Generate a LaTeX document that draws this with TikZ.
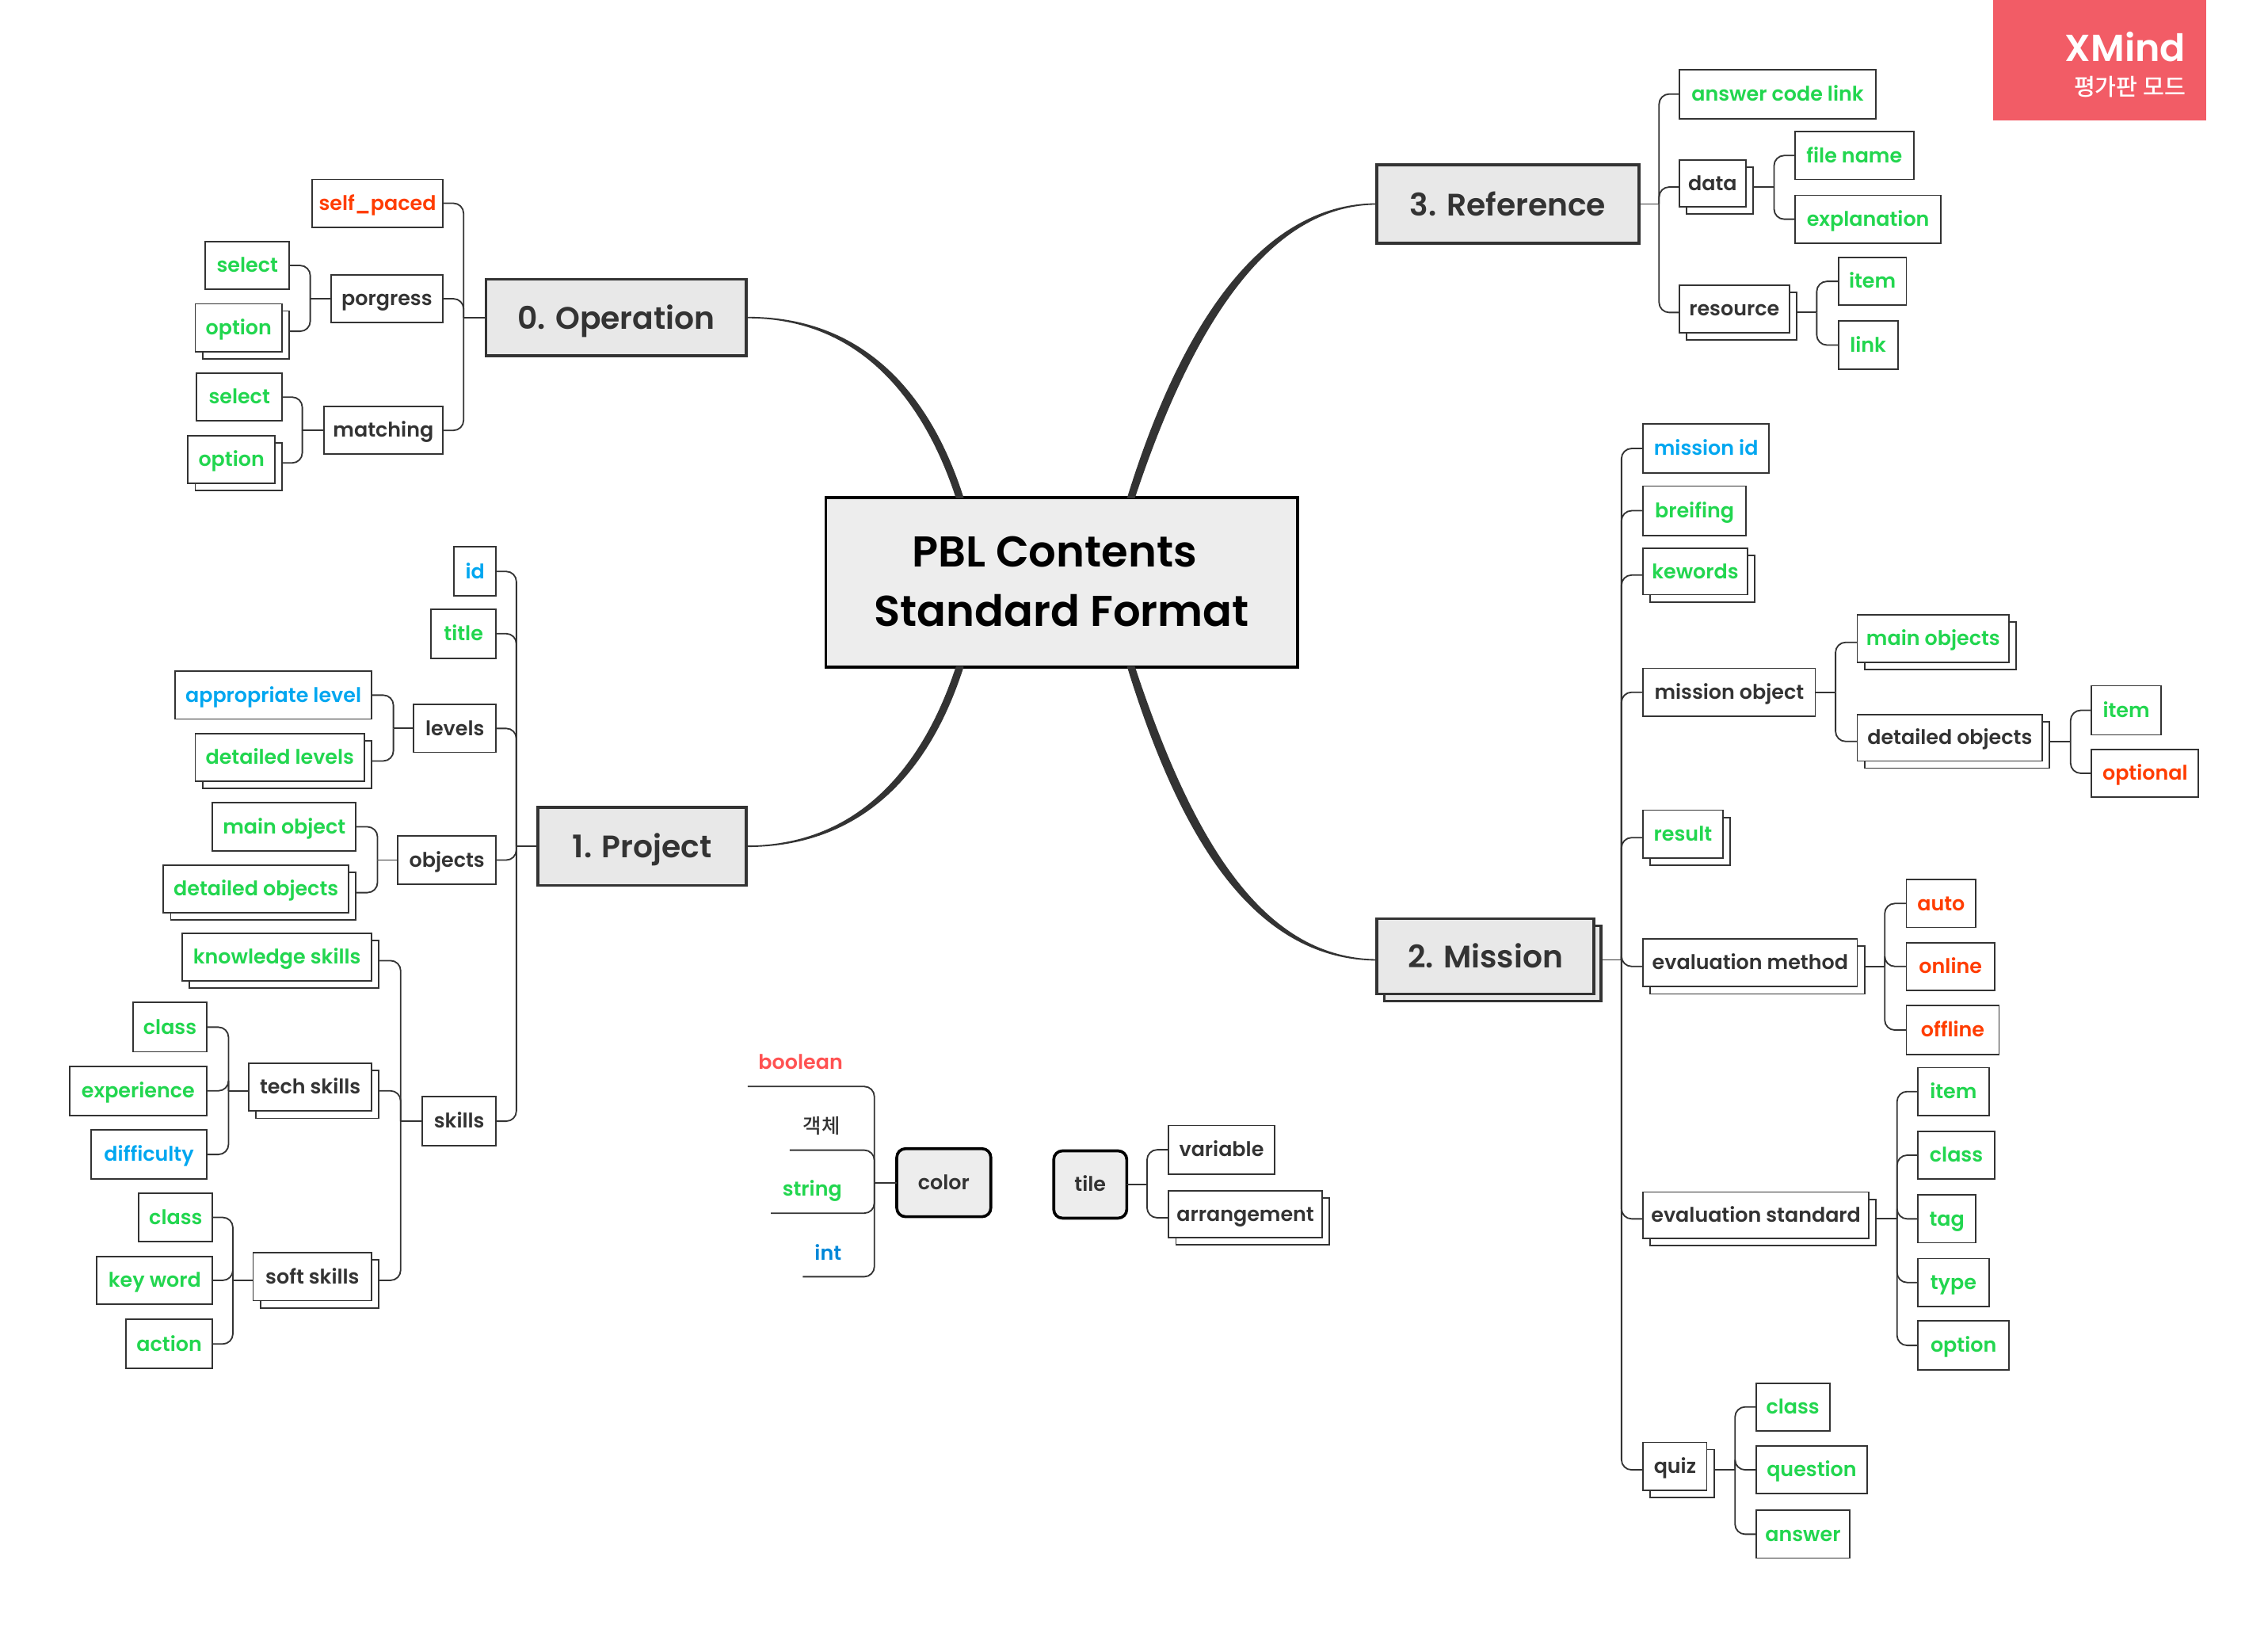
\documentclass[tikz,border=0pt]{standalone}
\usepackage{fontspec}
\setmainfont{Poppins SemiBold}
\newfontfamily\krfont{Noto Sans CJK KR Medium}
\usetikzlibrary{shadows}
\definecolor{cGreen}{HTML}{22D64F}
\definecolor{cRed}{HTML}{FF3D00}
\definecolor{cBlue}{HTML}{00A7F0}
\definecolor{cDark}{HTML}{333333}
\definecolor{cFree}{HTML}{FF5252}
\definecolor{cInt}{HTML}{0088D8}
\definecolor{cLogo}{HTML}{F25C66}
\tikzset{
  x=1pt,y=-1pt,
  base/.style={rectangle,inner sep=0pt,outer sep=0pt,text height=12pt,text depth=2.4pt,font=\fontsize{13.9}{16}\selectfont},
  sub/.style={base,draw=cDark,line width=1pt,fill=white},
  boxsh/.style={copy shadow={shadow xshift=5pt,shadow yshift=-5pt}},
  topic/.style={base,draw=cDark,line width=2pt,fill=black!9,text=cDark,text height=18pt,text depth=2pt,font=\fontsize{21.5}{26}\selectfont},
  floatb/.style={base,draw=black,line width=2pt,fill=black!7,rounded corners=6pt,text=cDark},
  central/.style={base,draw=black,line width=2pt,fill=black!7,text=black},
  headline/.style={base,text=black,text height=24pt,text depth=2pt,font=\fontsize{29.8}{34}\selectfont},
  link/.style={draw=cDark,line width=1pt},
  gbox/.style={sub,text=cGreen},
  rbox/.style={sub,text=cRed},
  bbox/.style={sub,text=cBlue},
  dbox/.style={sub,text=cDark},
  plain/.style={base},
}
% name,left,top,right,bottom,style,text
\newcommand\bx[7]{\node[#6,minimum width={(#4-(#2))*1pt},minimum height={(#5-(#3))*1pt}] (#1) at ({(#2+#4)/2},{(#3+#5)/2}) {#7};}
% same with stacked copy behind; #1e and #1w are the points where links meet it
\newcommand\bxs[7]{\node[#6,boxsh,minimum width={(#4-(#2))*1pt},minimum height={(#5-(#3))*1pt}] (#1) at ({(#2+#4)/2},{(#3+#5)/2}) {#7};
  \coordinate (#1e) at ([shift={(5,2.5)}]#1.east);
  \coordinate (#1w) at ([shift={(0,2.5)}]#1.west);}
% trunk point: name, anchor, dx
\newcommand\tr[3]{\coordinate (#1) at ([shift={(#3,0)}]#2); \draw[link] (#2) -- (#1);}
\newcommand\lk[2]{\draw[link,rounded corners=7pt] (#1) |- (#2);}
\newcommand\taper[6]{\filldraw[cDark,line width=1pt,line join=round] (#1) .. controls #2 and #3 .. ([xshift=-2.2pt]#4) -- ([xshift=2.2pt]#4) .. controls #5 and #6 .. (#1);}
\begin{document}
\begin{tikzpicture}
\useasboundingbox (0,0) rectangle (1568,1125.5);
% logo
\fill[cLogo] (1378,0) rectangle (1525,83);
\node[base,anchor=east,text=white,text height=18pt,text depth=0pt,font=\fontsize{26}{30}\selectfont] (logo1) at (1511,33.5) {XMind};
\node[base,anchor=east,text=white,text height=10pt,text depth=2pt,font=\krfont\fontsize{16}{18}\selectfont] (logo2) at (1511,62) {평가판 모드};
% central + main topics
\bx{cen}{571}{344}{897}{461}{central}{}
\node[headline] (cen1) at (729,381) {PBL Contents};
\node[headline] (cen2) at (734,422) {Standard Format};
\bx{op}{336}{193}{516}{246}{topic}{0. Operation}
\bx{pr}{372}{558}{516}{612}{topic}{1. Project}
\bxs{mi}{952}{635}{1102}{687}{topic}{2. Mission}
\bx{re}{952}{114}{1133}{168}{topic}{3. Reference}
\coordinate (c0) at (663.5,344);
\coordinate (c1) at (663.5,461);
\coordinate (c2) at (782,461);
\coordinate (c3) at (782,344);
\taper{op.east}{(590,219)}{(637,270)}{c0}{(642,270)}{(595,219)}
\taper{pr.east}{(590,585)}{(637,535)}{c1}{(642,535)}{(595,585)}
\taper{miw}{(865,663)}{(815,575)}{c2}{(822,575)}{(870,663)}
\taper{re.west}{(870,141)}{(815,230)}{c3}{(822,230)}{(875,141)}
% topic 0
\bx{selfp}{216}{124}{306}{157}{rbox}{self\_paced}
\bx{porg}{229}{190}{306}{223}{dbox}{porgress}
\bx{match}{224}{281}{306}{314}{dbox}{matching}
\bx{sel1}{142}{167}{200}{200}{gbox}{select}
\bxs{opt1}{135}{210}{195}{243}{gbox}{option}
\bx{sel2}{136}{258}{195}{291}{gbox}{select}
\bxs{opt2}{130}{301}{190}{334}{gbox}{option}
\tr{t0}{op.west}{-15.5}
\lk{t0}{selfp.east}\lk{t0}{porg.east}\lk{t0}{match.east}
\tr{t01}{porg.west}{-14.5}
\lk{t01}{sel1.east}\lk{t01}{opt1e}
\tr{t02}{match.west}{-15}
\lk{t02}{sel2.east}\lk{t02}{opt2e}
% topic 1
\bx{id1}{314}{378}{343}{412}{bbox}{id}
\bx{title1}{298}{421}{343}{455}{gbox}{title}
\bx{levels}{286}{487}{343}{520}{dbox}{levels}
\bx{appr}{121}{464}{257}{497}{bbox}{appropriate level}
\bxs{detl}{135}{507}{252}{540}{gbox}{detailed levels}
\bx{objs}{275}{578}{343}{611}{dbox}{objects}
\bx{mobj}{147}{555}{246}{588}{gbox}{main object}
\bxs{dobj}{113}{598}{241}{631}{gbox}{detailed objects}
\bx{skills}{292}{758}{343}{792}{dbox}{skills}
\bxs{know}{126}{645}{257}{678}{gbox}{knowledge skills}
\bxs{tech}{172}{735}{257}{768}{dbox}{tech skills}
\bxs{soft}{175}{866}{257}{899}{dbox}{soft skills}
\bx{cl1}{92}{693}{143}{727}{gbox}{class}
\bx{exper}{48}{737}{143}{771}{gbox}{experience}
\bx{diffi}{63}{781}{143}{815}{bbox}{difficulty}
\bx{cl2}{96}{825}{147}{858}{gbox}{class}
\bx{keyw}{67}{868.5}{147}{901.5}{gbox}{key word}
\bx{actn}{87}{912}{147}{946}{gbox}{action}
\tr{t1}{pr.west}{-15}
\lk{t1}{id1.east}\lk{t1}{title1.east}\lk{t1}{levels.east}\lk{t1}{objs.east}\lk{t1}{skills.east}
\tr{t11}{levels.west}{-14}
\lk{t11}{appr.east}\lk{t11}{detle}
\tr{t12}{objs.west}{-14}
\lk{t12}{mobj.east}\lk{t12}{dobje}
\tr{t13}{skills.west}{-15}
\lk{t13}{knowe}\lk{t13}{teche}\lk{t13}{softe}
\tr{t14}{techw}{-14}
\lk{t14}{cl1.east}\lk{t14}{exper.east}\lk{t14}{diffi.east}
\tr{t15}{softw}{-14}
\lk{t15}{cl2.east}\lk{t15}{keyw.east}\lk{t15}{actn.east}
% topic 3
\bx{ansl}{1161}{48}{1297}{82}{gbox}{answer code link}
\bxs{data}{1161}{110.5}{1207}{143}{dbox}{data}
\bxs{reso}{1161}{197}{1237}{230}{dbox}{resource}
\bx{fnam}{1241}{91}{1323}{124}{gbox}{file name}
\bx{expl}{1241}{135}{1342}{168}{gbox}{explanation}
\bx{item3}{1271}{178}{1318}{211}{gbox}{item}
\bx{link3}{1271}{222}{1312}{255}{gbox}{link}
\tr{t3}{re.east}{14}
\lk{t3}{ansl.west}\lk{t3}{dataw}\lk{t3}{resow}
\tr{t31}{datae}{14.5}
\lk{t31}{fnam.west}\lk{t31}{expl.west}
\tr{t32}{resoe}{14}
\lk{t32}{item3.west}\lk{t32}{link3.west}
% topic 2
\bx{mid}{1136}{293}{1223}{327}{bbox}{mission id}
\bx{brei}{1136}{336}{1207}{370}{gbox}{breifing}
\bxs{kewo}{1136}{379}{1208}{411}{gbox}{kewords}
\bx{mobject}{1136}{462}{1255}{495}{dbox}{mission object}
\bxs{mainob}{1284}{425}{1389}{458}{gbox}{main objects}
\bxs{detob}{1284}{494}{1412}{526}{dbox}{detailed objects}
\bx{item2}{1446}{474}{1494}{508}{gbox}{item}
\bx{optl}{1446}{518}{1520}{551}{rbox}{optional}
\bxs{resu}{1136}{560}{1191}{593}{gbox}{result}
\bxs{evm}{1136}{649}{1284}{682}{dbox}{evaluation method}
\bx{auto}{1318}{608}{1366}{641}{rbox}{auto}
\bx{onli}{1318}{651.5}{1379}{684.5}{rbox}{online}
\bx{offl}{1318}{695}{1382}{729}{rbox}{offline}
\bxs{evs}{1136}{824}{1292}{856}{dbox}{evaluation standard}
\bx{item4}{1326}{738}{1375}{771}{gbox}{item}
\bx{cl4}{1326}{782}{1379}{815}{gbox}{class}
\bx{tag4}{1326}{826}{1366}{859}{gbox}{tag}
\bx{typ4}{1326}{870}{1375}{903}{gbox}{type}
\bx{opt4}{1326}{913}{1389}{947}{gbox}{option}
\bxs{quiz}{1136}{997}{1180}{1030}{dbox}{quiz}
\bx{cl5}{1214}{956}{1265}{989}{gbox}{class}
\bx{ques}{1214}{999.5}{1291}{1032.5}{gbox}{question}
\bx{answ}{1214}{1044}{1279}{1077}{gbox}{answer}
\tr{t2}{mie}{14}
\lk{t2}{mid.west}\lk{t2}{brei.west}\lk{t2}{kewow}\lk{t2}{mobject.west}\lk{t2}{resuw}\lk{t2}{evmw}\lk{t2}{evsw}\lk{t2}{quizw}
\tr{t21}{mobject.east}{14}
\lk{t21}{mainobw}\lk{t21}{detobw}
\tr{t22}{detobe}{14.5}
\lk{t22}{item2.west}\lk{t22}{optl.west}
\tr{t23}{evme}{14}
\lk{t23}{auto.west}\lk{t23}{onli.west}\lk{t23}{offl.west}
\tr{t24}{evse}{14.5}
\lk{t24}{item4.west}\lk{t24}{cl4.west}\lk{t24}{tag4.west}\lk{t24}{typ4.west}\lk{t24}{opt4.west}
\tr{t25}{quize}{14.5}
\lk{t25}{cl5.west}\lk{t25}{ques.west}\lk{t25}{answ.west}
% floating topics
\bx{color}{620}{794}{685}{841}{floatb}{color}
\bx{tile}{728.5}{795.5}{779}{842}{floatb}{tile}
\bx{bool}{517}{718}{590}{751}{plain,text=cFree}{boolean}
\bx{obj}{546}{762}{590}{795}{plain,text=cDark}{{\krfont 객체}}
\bx{strg}{533}{805.6}{590}{838.6}{plain,text=cGreen}{string}
\bx{intg}{555}{849.5}{590}{882.5}{plain,text=cInt}{int}
\tr{t5}{color.west}{-15.5}
\lk{t5}{bool.south west}\lk{t5}{obj.south west}\lk{t5}{strg.south west}\lk{t5}{intg.south west}
\bx{vari}{808}{778}{881}{811.5}{dbox}{variable}
\bxs{arra}{808}{823}{914}{855.5}{dbox}{arrangement}
\tr{t6}{tile.east}{14}
\lk{t6}{vari.west}\lk{t6}{arraw}
\end{tikzpicture}
\end{document}
